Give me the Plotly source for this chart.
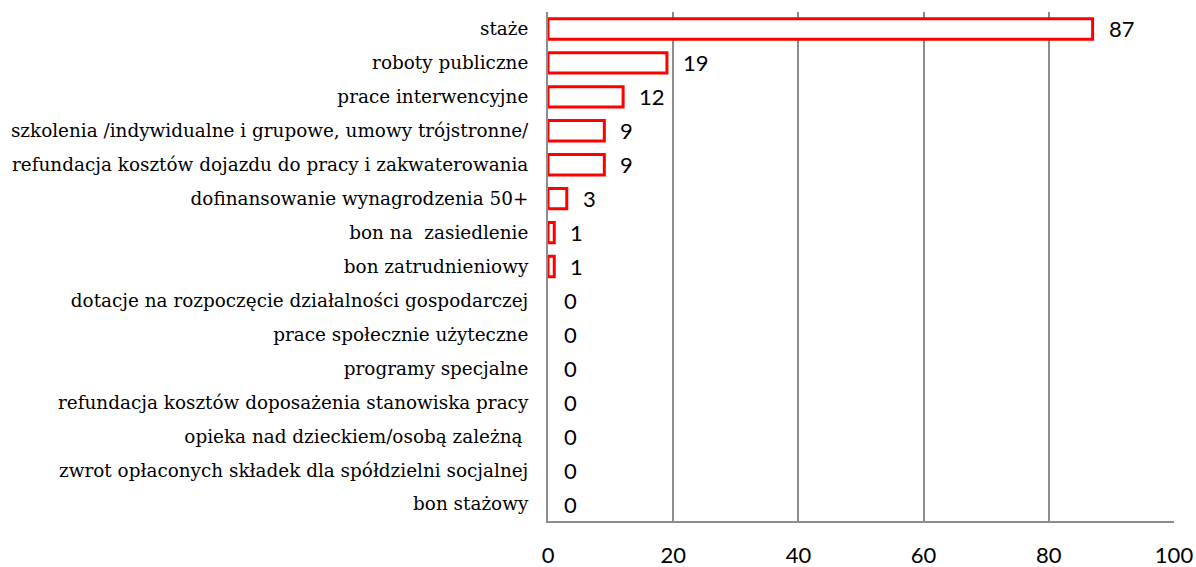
import plotly.graph_objects as go

categories = [
    "staże",
    "roboty publiczne",
    "prace interwencyjne",
    "szkolenia /indywidualne i grupowe, umowy trójstronne/",
    "refundacja kosztów dojazdu do pracy i zakwaterowania",
    "dofinansowanie wynagrodzenia 50+",
    "bon na  zasiedlenie",
    "bon zatrudnieniowy",
    "dotacje na rozpoczęcie działalności gospodarczej",
    "prace społecznie użyteczne",
    "programy specjalne",
    "refundacja kosztów doposażenia stanowiska pracy",
    "opieka nad dzieckiem/osobą zależną ",
    "zwrot opłaconych składek dla spółdzielni socjalnej",
    "bon stażowy",
]
values = [87, 19, 12, 9, 9, 3, 1, 1, 0, 0, 0, 0, 0, 0, 0]
x_ticks = [0, 20, 40, 60, 80, 100]

fig = go.Figure()
fig.add_trace(go.Bar(
    x=values,
    y=categories,
    orientation="h",
    marker=dict(color="white",
                line=dict(color="#ff0000", width=[3 if v > 0 else 0 for v in values])),
    width=0.6,
    hoverinfo="skip",
))

for c, v in zip(categories, values):
    fig.add_annotation(x=v, y=c, text=str(v), showarrow=False, xanchor="left",
                       xshift=14, font=dict(family="Lato, sans-serif", size=22, color="black"))

fig.update_layout(
    width=1196, height=567,
    margin=dict(l=548, r=22, t=12, b=46),
    paper_bgcolor="white", plot_bgcolor="white",
    showlegend=False,
    bargap=0.4,
)
fig.update_xaxes(range=[0, 100], tickvals=x_ticks, showgrid=True, gridcolor="#8c8c8c",
                 gridwidth=2, showline=True, linecolor="#8c8c8c", linewidth=2,
                 zeroline=False, ticks="", ticklabelstandoff=14, automargin=False,
                 tickfont=dict(family="Lato, sans-serif", size=22, color="black"))
fig.update_yaxes(autorange="reversed", showline=True, linecolor="#8c8c8c", linewidth=2,
                 showgrid=False, ticks="", ticklabelstandoff=14, automargin=False,
                 tickfont=dict(family="DejaVu Serif, serif", size=18.4, color="black"))

fig.write_html("out.html", config={"displayModeBar": False},
               post_script="document.body.style.margin='0';document.body.style.overflow='hidden';")
